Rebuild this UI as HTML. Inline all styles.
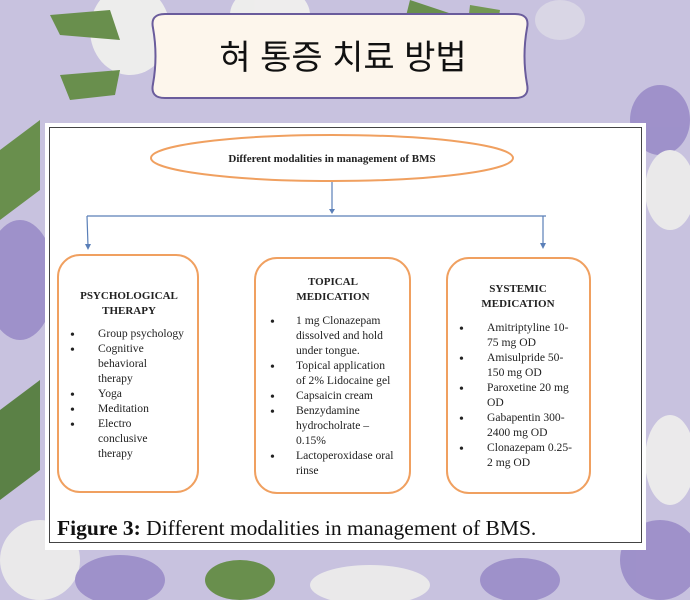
<!DOCTYPE html>
<html><head><meta charset="utf-8"><style>
html,body{margin:0;padding:0;width:690px;height:600px;overflow:hidden;background:#c8c2df}
svg{display:block}
</style></head><body>
<svg width="690" height="600" viewBox="0 0 690 600" xmlns="http://www.w3.org/2000/svg">
<rect width="690" height="600" fill="#c8c2df"/>
<g opacity="0.9">
<ellipse cx="130" cy="30" rx="40" ry="45" fill="#f2f2ee"/>
<ellipse cx="270" cy="15" rx="40" ry="30" fill="#f2f2ee"/>
<path d="M410 0 L470 20 L440 75 L400 40Z" fill="#5f8a3e"/>
<path d="M470 5 L500 10 L490 70 L465 50Z" fill="#6a9445"/>
<path d="M50 15 L110 10 L120 40 L60 35Z" fill="#5f8a3e"/>
<path d="M60 75 L120 70 L115 95 L70 100Z" fill="#5f8a3e"/>
<ellipse cx="660" cy="120" rx="30" ry="35" fill="#9a8cc8"/>
<ellipse cx="20" cy="280" rx="35" ry="60" fill="#9a8cc8"/>
<path d="M0 150 L40 120 L40 190 L0 220Z" fill="#5f8a3e"/>
<path d="M0 410 L40 380 L40 470 L0 500Z" fill="#4f7a35"/>
<ellipse cx="670" cy="190" rx="25" ry="40" fill="#eeeeec"/>
<ellipse cx="670" cy="460" rx="25" ry="45" fill="#eeeeec"/>
<ellipse cx="660" cy="560" rx="40" ry="40" fill="#9a8cc8"/>
<ellipse cx="40" cy="560" rx="40" ry="40" fill="#eeeeec"/>
<ellipse cx="120" cy="580" rx="45" ry="25" fill="#9a8cc8"/>
<ellipse cx="370" cy="585" rx="60" ry="20" fill="#eeeeec"/>
<ellipse cx="520" cy="580" rx="40" ry="22" fill="#9a8cc8"/>
<ellipse cx="240" cy="580" rx="35" ry="20" fill="#5f8a3e"/>
<ellipse cx="560" cy="20" rx="25" ry="20" fill="#eeeeec" opacity="0.5"/>
</g>
<path d="M165 14 H515 Q530 14 527 28 Q522 56 527 84 Q530 98 515 98 H165 Q150 98 153 84 Q158 56 153 28 Q150 14 165 14Z" fill="#fdf6ec" stroke="#6a5c9c" stroke-width="2"/>
<text x="343" y="69" text-anchor="middle" font-family="'Liberation Sans','Noto Sans CJK KR',sans-serif" font-size="34" fill="#111">혀 통증 치료 방법</text>
<rect x="45" y="123" width="601" height="427" fill="#fff"/>
<rect x="49.5" y="127.5" width="592" height="415" fill="none" stroke="#444" stroke-width="1"/>
<g font-family="'Liberation Serif',serif" fill="#222">
<ellipse cx="332" cy="158" rx="181" ry="23" fill="none" stroke="#f0a060" stroke-width="2"/>
<text x="332" y="162" text-anchor="middle" font-size="11" font-weight="bold">Different modalities in management of BMS</text>
<g stroke="#5a7fb8" stroke-width="1.2" fill="none">
<line x1="332" y1="182" x2="332" y2="212"/>
<line x1="87" y1="216" x2="546" y2="216"/>
<line x1="87" y1="216" x2="88" y2="246"/>
<line x1="543" y1="216" x2="543" y2="245"/>
</g>
<g fill="#5a7fb8">
<path d="M329 209 L335 209 L332 214Z"/>
<path d="M85 244 L91 244 L88 250Z"/>
<path d="M540 243 L546 243 L543 249Z"/>
</g>
<g fill="none" stroke="#f0a060" stroke-width="2">
<rect x="58" y="255" width="140" height="237" rx="22"/>
<rect x="255" y="258" width="155" height="235" rx="22"/>
<rect x="447" y="258" width="143" height="235" rx="22"/>
</g>
<g font-size="11" font-weight="bold" text-anchor="middle">
<text x="129" y="299">PSYCHOLOGICAL</text><text x="129" y="314">THERAPY</text>
<text x="333" y="285">TOPICAL</text><text x="333" y="300">MEDICATION</text>
<text x="518" y="292">SYSTEMIC</text><text x="518" y="307">MEDICATION</text>
</g>
<g font-size="11.6">
<g font-size="14"><text x="70" y="339">•</text><text x="70" y="354">•</text><text x="70" y="399">•</text><text x="70" y="414">•</text><text x="70" y="429">•</text>
<text x="270" y="326">•</text><text x="270" y="371">•</text><text x="270" y="401">•</text><text x="270" y="416">•</text><text x="270" y="461">•</text>
<text x="459" y="333">•</text><text x="459" y="363">•</text><text x="459" y="393">•</text><text x="459" y="423">•</text><text x="459" y="453">•</text></g>
<text x="98" y="337">Group psychology</text>
<text x="98" y="352">Cognitive</text>
<text x="98" y="367">behavioral</text>
<text x="98" y="382">therapy</text>
<text x="98" y="397">Yoga</text>
<text x="98" y="412">Meditation</text>
<text x="98" y="427">Electro</text>
<text x="98" y="442">conclusive</text>
<text x="98" y="457">therapy</text>

<text x="296" y="324">1 mg Clonazepam</text>
<text x="296" y="339">dissolved and hold</text>
<text x="296" y="354">under tongue.</text>
<text x="296" y="369">Topical application</text>
<text x="296" y="384">of 2% Lidocaine gel</text>
<text x="296" y="399">Capsaicin cream</text>
<text x="296" y="414">Benzydamine</text>
<text x="296" y="429">hydrocholrate –</text>
<text x="296" y="444">0.15%</text>
<text x="296" y="459">Lactoperoxidase oral</text>
<text x="296" y="474">rinse</text>

<text x="487" y="331">Amitriptyline 10-</text>
<text x="487" y="346">75 mg OD</text>
<text x="487" y="361">Amisulpride 50-</text>
<text x="487" y="376">150 mg OD</text>
<text x="487" y="391">Paroxetine 20 mg</text>
<text x="487" y="406">OD</text>
<text x="487" y="421">Gabapentin 300-</text>
<text x="487" y="436">2400 mg OD</text>
<text x="487" y="451">Clonazepam 0.25-</text>
<text x="487" y="466">2 mg OD</text>
</g>
<text x="57" y="535" font-size="21.5" fill="#111"><tspan font-weight="bold">Figure 3:</tspan> Different modalities in management of BMS.</text>
</g>
</svg>
</body></html>
